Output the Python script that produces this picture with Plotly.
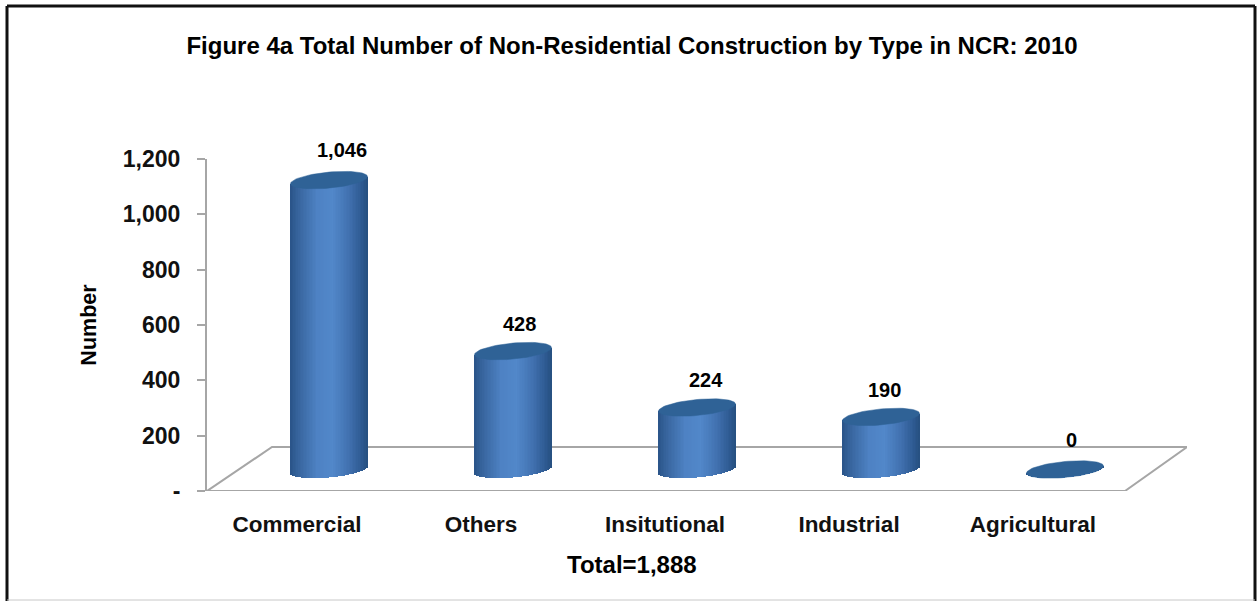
import numpy as np
import plotly.graph_objects as go

categories = ["Commercial", "Others", "Insitutional", "Industrial", "Agricultural"]
values = [1046, 428, 224, 190, 0]
value_labels = ["1,046", "428", "224", "190", "0"]
y_ticks = [0, 200, 400, 600, 800, 1000, 1200]
y_tick_labels = ["-", "200", "400", "600", "800", "1,000", "1,200"]
title = "Figure 4a Total Number of Non-Residential Construction by Type in NCR: 2010"
total_note = "Total=1,888"

W, H = 1259, 601
L, R, T, B = 207, 1187, 159, 491
PX_Y = 1200 / (B - T)          # value units per pixel
STEP = 184                     # pixels between bars
X_FIRST = 329                  # pixel centre of the first bar
px_x = lambda p: (p - X_FIRST) / STEP
BASE = 21.5 * PX_Y             # the bars stand on the raised floor
HALF = 38.5 / STEP             # half bar width
ELL = 8.0 * PX_Y               # ellipse half height
TILT = 3.5 * PX_Y              # rise of the right edge
stops_t = [-1, -0.75, -0.3, 0.1, 0.55, 0.85, 1]
stops_rgb = np.array([[42, 84, 136], [58, 104, 162], [78, 130, 196], [82, 136, 202],
                      [64, 112, 174], [46, 90, 146], [38, 80, 128]])

fig = go.Figure()

# cylinder bodies, as thin vertical bars so that the side can shade across
N = 50
edges = np.linspace(-1, 1, N + 1)
idx = np.arange(len(values))
for a, b in zip(edges[:-1], edges[1:]):
    t = (a + b) / 2
    col = [int(np.interp(t, stops_t, stops_rgb[:, c])) for c in range(3)]
    dip = ELL * np.sqrt(max(1 - t * t, 0))
    rise = TILT * t
    fig.add_trace(go.Bar(
        x=idx + t * HALF,
        y=[v + dip for v in values],
        base=[BASE + rise - dip] * len(values),
        width=(b - a) * HALF * 1.3,
        marker=dict(color=f"rgb({col[0]},{col[1]},{col[2]})", line=dict(width=0)),
        hoverinfo="skip", showlegend=False))

# cylinder tops
theta = np.linspace(0, 2 * np.pi, 73)
ex, ey = [], []
for i, v in enumerate(values):
    ex += list(i + HALF * np.cos(theta)) + [None]
    ey += list(BASE + v + TILT * np.cos(theta) + ELL * np.sin(theta)) + [None]
fig.add_trace(go.Scatter(
    x=ex, y=ey, mode="lines", fill="toself", fillcolor="#2f6296",
    line=dict(color="#2f6296", width=0.5), hoverinfo="skip", showlegend=False))

# value labels: anchored on the bar top, shifted in pixels
label_dx = [13, 6, 9, 3, 6]
label_dy = [30, 27.5, 27.5, 26.5, 29.5]
notes = [dict(text=f"<b>{lab}</b>", xref="x", yref="y", x=int(i), y=BASE + v,
              xshift=dx, yshift=dy, xanchor="center", yanchor="middle", showarrow=False,
              font=dict(family="Liberation Sans", size=20, color="black"))
         for i, v, lab, dx, dy in zip(idx, values, value_labels, label_dx, label_dy)]
notes.append(dict(text=f"<b>{total_note}</b>", xref="paper", yref="paper",
                  x=(632 - L) / (R - L), y=(B - 564) / (B - T),
                  xanchor="center", yanchor="middle", showarrow=False,
                  font=dict(family="Liberation Sans", size=24, color="black")))

fig.update_layout(
    width=W, height=H, autosize=False,
    margin=dict(l=L, r=W - R, t=T, b=H - B),
    paper_bgcolor="white", plot_bgcolor="white",
    barmode="overlay", bargap=0,
    font=dict(family="Liberation Sans", color="black"),
    title=dict(text=f"<b>{title}</b>", x=632 / W, xanchor="center",
               y=1 - 46 / H, yanchor="middle",
               font=dict(family="Liberation Sans", size=24, color="black")),
    xaxis=dict(range=[px_x(L), px_x(R)], tickmode="array",
               tickvals=[i - 32 / STEP for i in idx],
               ticktext=[f"<b>{c}</b>" for c in categories],
               tickfont=dict(family="Liberation Sans", size=22.5, color="#111111"),
               ticks="", showgrid=False, zeroline=False, showline=False,
               ticklabelstandoff=17),
    yaxis=dict(range=[0, 1200], tickmode="array", tickvals=y_ticks,
               ticktext=[f"<b>{s}</b>" for s in y_tick_labels],
               tickfont=dict(family="Liberation Sans", size=23, color="#111111"),
               ticks="outside", ticklen=8, tickwidth=2, tickcolor="#a6a6a6",
               showline=True, linecolor="#a6a6a6", linewidth=2,
               showgrid=False, zeroline=False, ticklabelstandoff=12,
               title=dict(text="<b>Number</b>", standoff=20,
                          font=dict(family="Liberation Sans", size=21.5, color="black"))),
    annotations=notes,
)

# floor, behind the cylinders
floor_y = 44 * PX_Y
fig.add_shape(type="path", xref="x", yref="y", layer="below",
              path=(f"M{px_x(207)},0 L{px_x(272)},{floor_y} L{px_x(1187)},{floor_y} "
                    f"L{px_x(1125)},0 Z"),
              line=dict(color="#a6a6a6", width=2), fillcolor="rgba(0,0,0,0)")

# frame round the figure
fx = lambda p: (p - L) / (R - L)
fy = lambda p: (B - p) / (B - T)
for x0, y0, x1, y1, col, wid in [(7, 6, 1255, 6, "#111111", 3), (7, 6, 7, 601, "#111111", 3),
                                 (1255, 6, 1255, 601, "#111111", 3), (7, 600, 1255, 600, "#c8c8c8", 1)]:
    fig.add_shape(type="line", xref="paper", yref="paper", x0=fx(x0), y0=fy(y0), x1=fx(x1), y1=fy(y1),
                  line=dict(color=col, width=wid))

fig.write_html("out.html", config=dict(displayModeBar=False),
               post_script="document.body.style.margin='0';document.body.style.overflow='hidden';")
